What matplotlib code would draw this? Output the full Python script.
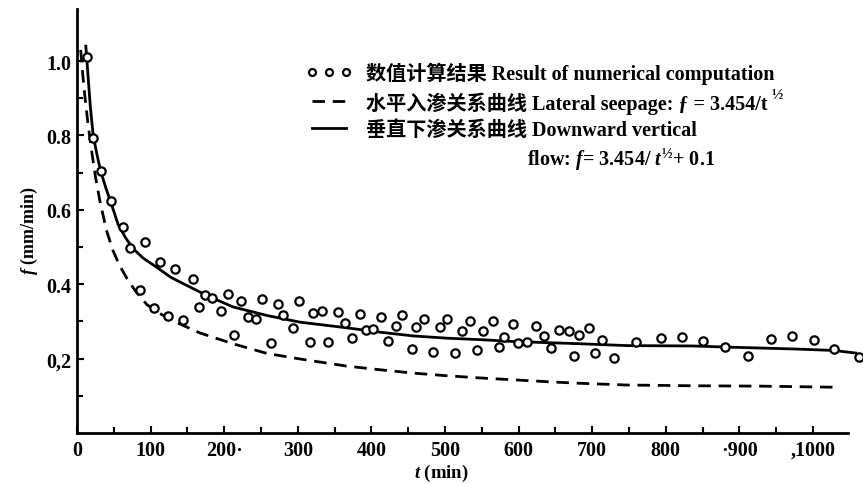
import matplotlib
matplotlib.use("Agg")
import matplotlib.pyplot as plt

# ---- data ----
t_pts = [13, 22, 32, 46, 63, 72, 86, 93, 105, 113, 124, 133, 144, 157, 166, 174, 183,
         195, 205, 214, 223, 233, 243, 252, 264, 273, 280, 293, 301, 316, 321, 333, 341,
         355, 364, 374, 385, 393, 402, 413, 422, 433, 442, 455, 460, 472, 484, 493, 503,
         513, 523, 534, 543, 552, 565, 573, 580, 593, 599, 612, 624, 635, 644, 655, 668,
         675, 682, 696, 704, 714, 729, 760, 793, 822, 850, 880, 912, 943, 971, 1002, 1028,
         1063]
f_pts = [1.01, 0.794, 0.705, 0.623, 0.554, 0.498, 0.384, 0.514, 0.337, 0.46, 0.315, 0.442,
         0.303, 0.413, 0.34, 0.37, 0.364, 0.327, 0.375, 0.264, 0.355, 0.312, 0.307, 0.361,
         0.242, 0.346, 0.316, 0.283, 0.354, 0.244, 0.323, 0.327, 0.244, 0.325, 0.296, 0.256,
         0.321, 0.278, 0.279, 0.312, 0.247, 0.287, 0.318, 0.226, 0.285, 0.307, 0.217, 0.285,
         0.307, 0.215, 0.273, 0.301, 0.222, 0.273, 0.301, 0.231, 0.258, 0.294, 0.243, 0.244,
         0.289, 0.261, 0.229, 0.278, 0.273, 0.208, 0.264, 0.283, 0.215, 0.249, 0.202, 0.244,
         0.256, 0.258, 0.247, 0.231, 0.206, 0.253, 0.261, 0.249, 0.226, 0.204]

t_solid = [12, 15, 18, 22, 27, 32, 39, 46, 56, 66, 76, 90, 108, 128, 149, 176, 212, 258,
           303, 366, 412, 457, 502, 548, 593, 638, 683, 747, 837, 883, 973, 1028, 1058]
f_solid = [1.04, 0.96, 0.88, 0.80, 0.75, 0.705, 0.66, 0.62, 0.56, 0.525, 0.496, 0.47,
           0.446, 0.418, 0.397, 0.37, 0.339, 0.316, 0.298, 0.283, 0.271, 0.261, 0.255,
           0.251, 0.246, 0.243, 0.240, 0.235, 0.234, 0.231, 0.226, 0.222, 0.215]

t_dash = [5, 8, 11, 15, 20, 25, 31, 40, 49, 58, 68, 80, 95, 112, 131, 167, 212, 258, 303,
          366, 412, 457, 502, 548, 593, 638, 679, 747, 837, 928, 1032]
f_dash = [1.03, 0.96, 0.90, 0.83, 0.757, 0.69, 0.625, 0.545, 0.49, 0.45, 0.415, 0.38,
          0.345, 0.322, 0.301, 0.269, 0.240, 0.214, 0.199, 0.180, 0.170, 0.161, 0.154,
          0.148, 0.143, 0.138, 0.134, 0.129, 0.127, 0.126, 0.123]

x_ticks = [0, 100, 200, 300, 400, 500, 600, 700, 800, 900, 1000]
x_tick_labels = ["0", "100", "200·", "300", "400", "500", "600", "700", "800", "·900", ",1000"]
y_ticks = [0.2, 0.4, 0.6, 0.8, 1.0]
y_tick_labels = ["0,2", "0.4", "0.6", "0.8", "1.0"]

label_pts = "数值计算结果 Result of numerical computation"
label_dash = "水平入渗关系曲线 Lateral seepage: ƒ = 3.454/t"
label_dash_sup = "½"
label_solid = "垂直下渗关系曲线 Downward vertical"
label_extra = "flow: $f$= 3.454/ $t^{½}$+ 0.1"

# ---- style ----
plt.rcParams['font.family'] = ['Liberation Serif', 'Noto Sans CJK SC', 'DejaVu Sans']
plt.rcParams['mathtext.fontset'] = 'custom'
plt.rcParams['mathtext.rm'] = 'Liberation Serif:bold'
plt.rcParams['mathtext.it'] = 'Liberation Serif:italic:bold'
plt.rcParams['mathtext.bf'] = 'Liberation Serif:bold'

W, H = 863, 485
fig = plt.figure(figsize=(W / 100, H / 100), dpi=100)
ax = fig.add_axes([77 / W, 51 / H, 786 / W, 424 / H])

ax.plot(t_pts, f_pts, linestyle='none', marker='o', markersize=6,
        markerfacecolor='white', markeredgecolor='black', markeredgewidth=1.6,
        zorder=3, label=label_pts)
ax.plot(t_dash, f_dash, color='black', lw=2.0, linestyle=(0, (4.5, 2.8)),
        label=label_dash, zorder=2)
ax.plot(t_solid, f_solid, color='black', lw=2.0, label=label_solid, zorder=2)

ax.set_xlim(0, 1068)
ax.set_ylim(0, 1.14)

for s in ['top', 'right']:
    ax.spines[s].set_visible(False)
ax.spines['left'].set_linewidth(2.0)
ax.spines['bottom'].set_linewidth(2.0)
ax.spines['bottom'].set_bounds(0, 1048)

ax.set_xticks(x_ticks)
ax.set_xticklabels(x_tick_labels)
ax.set_xticks(list(range(50, 1050, 100)), minor=True)
ax.set_yticks(y_ticks)
ax.set_yticklabels(y_tick_labels)
ax.set_yticks([0.1, 0.3, 0.5, 0.7, 0.9], minor=True)
ax.tick_params(axis='both', which='both', direction='in', width=1.5, labelsize=14.5)
ax.tick_params(axis='both', which='major', length=5)
ax.tick_params(axis='both', which='minor', length=4)
ax.tick_params(axis='x', pad=5)
ax.tick_params(axis='y', pad=4)
for lab in ax.get_xticklabels() + ax.get_yticklabels():
    lab.set_fontweight('bold')

ax.set_xlabel("$t$ (min)", fontsize=13.5, fontweight='bold')
ax.xaxis.set_label_coords((441 - 77) / 786, -0.068)
ax.set_ylabel("$f$ (mm/min)", fontsize=13, fontweight='bold')
ax.yaxis.set_label_coords(-0.047, 0.48)

leg = ax.legend(loc='upper left', bbox_to_anchor=((298 - 77) / 786, (434 - 55) / 424),
                frameon=False, numpoints=3, handlelength=2.3, handletextpad=0.7,
                labelspacing=0.33, borderaxespad=0,
                prop={'size': 14.5, 'weight': 'bold'})
for h in leg.legend_handles:
    if hasattr(h, 'set_markersize'):
        h.set_markersize(5)

fig.text(527 / W, 1 - 160 / H, label_extra, fontsize=14.5, fontweight='bold',
         va='center', ha='left')

# superscript ½ after the dashed-curve legend text
fig.canvas.draw()
renderer = fig.canvas.get_renderer()
bb = leg.get_texts()[1].get_window_extent(renderer)
fig.text((bb.x1 + 3) / W, (bb.y1 + 4) / H, label_dash_sup, fontsize=11,
         fontweight='bold', va='top', ha='left')

fig.savefig("out.png", dpi=100)
